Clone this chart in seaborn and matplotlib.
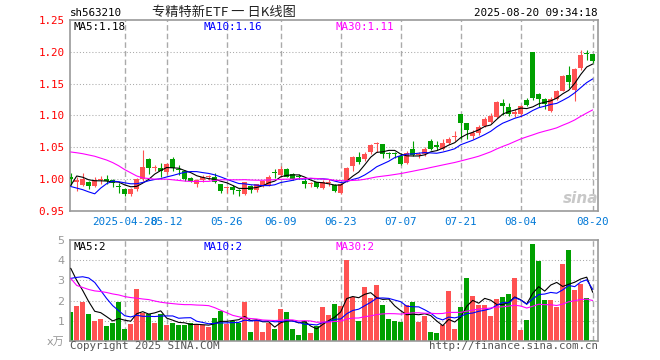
import numpy as np
import pandas as pd
import matplotlib
matplotlib.use("Agg")
import matplotlib.pyplot as plt
import seaborn as sns

# ---------------- data ----------------
opens = [1.003, 0.996, 0.991, 0.995, 0.9885, 0.998, 1.001, 0.999, 0.989, 0.984,
         0.977, 0.984, 1.001, 1.031, 1.017, 1.017, 1.0105, 1.032, 1.016, 1.0125,
         1.0026, 0.992, 0.999, 1.003, 1.004, 0.992, 0.986, 0.988, 0.982, 0.9766,
         0.9895, 0.9833, 0.991, 0.990, 1.0104, 1.006, 1.0165, 1.008, 1.005, 0.997,
         0.992, 0.995, 0.9855, 0.994, 0.991, 0.978, 0.9964, 1.021, 1.035, 1.031,
         1.042, 1.055, 1.055, 1.040, 1.040, 1.036, 1.025, 1.048, 1.038, 1.039,
         1.060, 1.053, 1.048, 1.057, 1.066, 1.1016, 1.0875, 1.068, 1.072, 1.084,
         1.090, 1.098, 1.120, 1.113, 1.1016, 1.102, 1.125, 1.200, 1.134, 1.126,
         1.107, 1.126, 1.139, 1.164, 1.1406, 1.175, 1.198, 1.196]
highs = [1.009, 1.004, 1.010, 0.997, 1.004, 1.005, 1.007, 1.000, 0.994, 0.986,
         0.986, 1.002, 1.046, 1.034, 1.023, 1.026, 1.026, 1.035, 1.022, 1.014,
         1.004, 1.001, 1.007, 1.007, 1.009, 0.993, 0.990, 0.991, 0.985, 0.996,
         0.991, 0.992, 0.998, 1.006, 1.0156, 1.021, 1.018, 1.009, 1.008, 1.000,
         0.995, 0.996, 0.998, 1.001, 0.992, 0.994, 1.0185, 1.0365, 1.042, 1.042,
         1.055, 1.058, 1.056, 1.043, 1.042, 1.041, 1.044, 1.060, 1.043, 1.050,
         1.0625, 1.060, 1.0625, 1.066, 1.075, 1.1016, 1.089, 1.077, 1.085, 1.097,
         1.104, 1.123, 1.126, 1.120, 1.110, 1.117, 1.128, 1.200, 1.135, 1.128,
         1.129, 1.140, 1.163, 1.177, 1.174, 1.203, 1.203, 1.197]
lows = [0.991, 0.982, 0.989, 0.984, 0.987, 0.993, 0.992, 0.987, 0.979, 0.973,
        0.973, 0.982, 0.997, 1.008, 1.013, 1.003, 1.008, 1.013, 1.006, 0.997,
        0.995, 0.987, 0.996, 0.999, 0.994, 0.979, 0.978, 0.977, 0.973, 0.975,
        0.978, 0.980, 0.988, 0.989, 1.0026, 1.004, 1.003, 0.999, 1.000, 0.9865,
        0.988, 0.986, 0.984, 0.990, 0.980, 0.976, 0.995, 1.013, 1.0245, 1.029,
        1.040, 1.042, 1.033, 1.033, 1.034, 1.022, 1.024, 1.036, 1.034, 1.037,
        1.046, 1.046, 1.046, 1.055, 1.060, 1.0625, 1.0625, 1.0625, 1.070, 1.082,
        1.088, 1.096, 1.100, 1.099, 1.098, 1.097, 1.115, 1.125, 1.113, 1.110,
        1.105, 1.124, 1.138, 1.143, 1.122, 1.172, 1.187, 1.183]
closes = [1.000, 0.999, 1.000, 0.9896, 0.999, 0.9995, 0.997, 0.994, 0.9875, 0.977,
          0.9848, 1.000, 1.0195, 1.017, 1.0185, 1.013, 1.0235, 1.017, 1.014, 1.000,
          0.997, 0.999, 1.004, 1.004, 0.996, 0.981, 0.9868, 0.983, 0.981, 0.995,
          0.983, 0.9925, 0.9965, 1.004, 1.009, 1.0165, 1.004, 1.000, 1.004, 0.992,
          0.993, 0.987, 0.996, 0.9955, 0.982, 0.993, 1.018, 1.035, 1.0276, 1.039,
          1.053, 1.056, 1.039, 1.039, 1.039, 1.0245, 1.0417, 1.038, 1.039, 1.048,
          1.048, 1.051, 1.057, 1.0635, 1.067, 1.0875, 1.077, 1.073, 1.0825, 1.094,
          1.099, 1.121, 1.1146, 1.1016, 1.106, 1.115, 1.117, 1.128, 1.126, 1.118,
          1.126, 1.138, 1.1625, 1.153, 1.173, 1.1955, 1.197, 1.186]
volumes = [1.42, 1.72, 1.92, 1.32, 0.98, 1.07, 0.72, 0.87, 1.92, 0.57,
           0.82, 2.57, 1.38, 1.32, 0.87, 1.32, 0.77, 0.87, 0.77, 0.77,
           0.90, 0.82, 0.77, 0.67, 1.12, 1.48, 0.82, 0.98, 0.87, 1.92,
           0.47, 1.03, 0.47, 0.87, 0.60, 1.57, 1.42, 0.57, 0.32, 0.97,
           0.42, 0.72, 1.67, 1.27, 1.82, 1.72, 4.02, 2.18, 0.97, 2.67,
           2.12, 2.77, 1.77, 1.07, 0.97, 0.92, 1.77, 1.92, 0.92, 1.22,
           0.47, 0.42, 0.77, 2.47, 0.57, 1.67, 3.12, 2.22, 1.77, 1.77,
           1.22, 2.07, 2.17, 2.32, 3.12, 0.52, 1.02, 4.82, 3.97, 2.02,
           2.02, 1.67, 3.82, 4.52, 2.52, 2.82, 2.12, 0.07]

# moving-average values before a full window is available
ma5_head = [0.990, 1.005, 1.003, 0.999]
ma10_head = [0.9885, 0.986, 0.9835, 0.980, 0.977, 0.986, 0.993, 0.997, 0.996]
ma30_head = [1.0427, 1.0415, 1.040, 1.038, 1.036, 1.033, 1.030, 1.026, 1.021, 1.015,
             1.010, 1.005, 1.002, 1.001, 1.000, 1.000, 1.000, 0.999, 0.998, 0.997,
             0.9965, 0.9965, 0.9965, 0.9965, 0.998, 0.999, 0.999, 0.999, 0.999]
vma5_head = [3.6, 3.0, 2.5, 1.95]
vma10_head = [3.1, 3.15, 3.18, 3.12, 2.9, 2.5, 2.1, 1.75, 1.5]
vma30_head = [3.1, 2.75, 2.65, 2.55, 2.48, 2.45, 2.4, 2.33, 2.28, 2.2,
              2.15, 2.12, 2.08, 2.05, 1.98, 1.92, 1.88, 1.85, 1.82, 1.8,
              1.8, 1.78, 1.77, 1.75, 1.65, 1.52, 1.4, 1.27, 1.2]

start_date = "2025-04-15"
end_date = "2025-08-20"
holidays = ["2025-05-01", "2025-05-02", "2025-05-05", "2025-06-02"]
tick_dates = ["2025-04-28", "2025-05-12", "2025-05-26", "2025-06-09", "2025-06-23",
              "2025-07-07", "2025-07-21", "2025-08-04", "2025-08-20"]
tick_labels = ["2025-04-28", "05-12", "05-26", "06-09", "06-23",
               "07-07", "07-21", "08-04", "08-20"]
price_grid = [1.00, 1.05, 1.10, 1.15, 1.20]
price_ticks = [0.95, 1.00, 1.05, 1.10, 1.15, 1.20, 1.25]
vol_ticks = [0, 1, 2, 3, 4, 5]
vol_tick_labels = ["x万", "1", "2", "3", "4", "5"]
vol_grid = [1, 2, 3, 4]

# ---------------- derived ----------------
dates = pd.bdate_range(start_date, end_date)
dates = dates[~dates.isin(pd.to_datetime(holidays))]
x = np.arange(len(dates))
o = np.array(opens); h = np.array(highs); l = np.array(lows); c = np.array(closes)
v = np.array(volumes)


def moving(arr, n, head):
    s = pd.Series(arr).rolling(n).mean().to_numpy()
    s[: n - 1] = head
    return s


ma5 = moving(c, 5, ma5_head)
ma10 = moving(c, 10, ma10_head)
ma30 = moving(c, 30, ma30_head)
vma5 = moving(v, 5, vma5_head)
vma10 = moving(v, 10, vma10_head)
vma30 = moving(v, 30, vma30_head)

RED = "#ff5252"
GREEN = "#00a000"
cols = np.where(c >= o, RED, GREEN)
tick_pos = [dates.get_loc(pd.Timestamp(d)) for d in tick_dates]

# ---------------- figure ----------------
sns.set_theme(style="white")
plt.rcParams["font.family"] = ["DejaVu Sans Mono", "Noto Sans CJK SC"]

W, H = 660, 360
fig = plt.figure(figsize=(W / 100, H / 100), dpi=100)
fig.patch.set_facecolor("white")
ax = fig.add_axes([70 / W, 1 - 211 / H, 528 / W, 191 / H])
axv = fig.add_axes([70 / W, 1 - 341 / H, 528 / W, 101 / H])

xlim = (-0.12, 87.88)
GRID = "#aaaaaa"
for a in (ax, axv):
    a.set_facecolor("white")
    a.set_xlim(*xlim)
    for sp in a.spines.values():
        sp.set_color("#999999")
        sp.set_linewidth(1.2)
    for p in tick_pos:
        a.axvline(p, color=GRID, lw=1.0, dashes=(4, 2.2), zorder=0)
    a.tick_params(length=0)

for yv in price_grid:
    ax.axhline(yv, color=GRID, lw=0.75, dashes=(1, 2), zorder=0)
for yv in vol_grid:
    axv.axhline(yv, color=GRID, lw=0.75, dashes=(1, 2), zorder=0)

# candles
ax.vlines(x, l, h, colors=cols, lw=0.8, zorder=2)
body = np.maximum(np.abs(c - o), 0.0016)
ax.bar(x, body, bottom=np.minimum(o, c), width=0.75, color=cols, linewidth=0, zorder=3)
for arr, colr in ((ma5, "black"), (ma10, "#0000ff"), (ma30, "#ff00ff")):
    sns.lineplot(x=x, y=arr, ax=ax, color=colr, lw=0.8, zorder=4)
ax.set_ylim(0.95, 1.25)
ax.set_yticks(price_ticks)
ax.set_yticklabels([f"{t:.2f}" for t in price_ticks], color="#ff0000", fontsize=7.8)
ax.set_xticks(tick_pos)
ax.set_xticklabels(tick_labels, color="#0078d7", fontsize=7.8)
ax.tick_params(axis="x", pad=4)
ax.tick_params(axis="y", pad=4)
ax.set_xlabel("")
ax.set_ylabel("")

# volume
axv.bar(x, v, width=0.8, color=cols, linewidth=0, zorder=2)
for arr, colr in ((vma5, "black"), (vma10, "#0000ff"), (vma30, "#ff00ff")):
    sns.lineplot(x=x, y=arr, ax=axv, color=colr, lw=0.8, zorder=4)
axv.set_ylim(0, 5)
axv.set_yticks(vol_ticks)
axv.set_yticklabels(vol_tick_labels, color="#999999", fontsize=8,
                    family=["DejaVu Sans", "Noto Sans CJK SC"])
axv.set_xticks([])
axv.tick_params(axis="y", pad=4)
axv.set_xlabel("")
axv.set_ylabel("")


def ftext(px, py, s, **kw):
    fig.text(px / W, 1 - py / H, s, **kw)


mono = dict(fontsize=7.8, va="center")
ftext(70, 13, "sh563210", ha="left", color="black", **mono)
ftext(224, 12.5, "专精特新ETF 一 日K线图", ha="center", va="center", fontsize=9.5,
      color="#222222", family=["Noto Sans CJK SC", "DejaVu Sans"])
ftext(598, 13, "2025-08-20 09:34:18", ha="right", color="black", **mono)

ftext(74, 27, f"MA5:{ma5[-1]:.2f}", ha="left", color="black", **mono)
ftext(204, 27, f"MA10:{ma10[-1]:.2f}", ha="left", color="#0000ff", **mono)
ftext(335, 27, f"MA30:{ma30[-1]:.2f}", ha="left", color="#ff00ff", **mono)

ftext(74, 247, f"MA5:{int(vma5[-1])}", ha="left", color="black", **mono)
ftext(204, 247, f"MA10:{int(vma10[-1])}", ha="left", color="#0000ff", **mono)
ftext(335, 247, f"MA30:{int(vma30[-1])}", ha="left", color="#ff00ff", **mono)

ftext(70, 346, "Copyright 2025 SINA.COM", ha="left", color="#555555", **mono)
ftext(598, 346, "http://finance.sina.com.cn", ha="right", color="#555555", **mono)

ftext(581, 198, "sina", ha="center", va="center", fontsize=11, fontweight="bold",
      style="italic", color="#c8c8c8", family=["DejaVu Sans"])

fig.savefig("out.png", dpi=100, facecolor="white")
